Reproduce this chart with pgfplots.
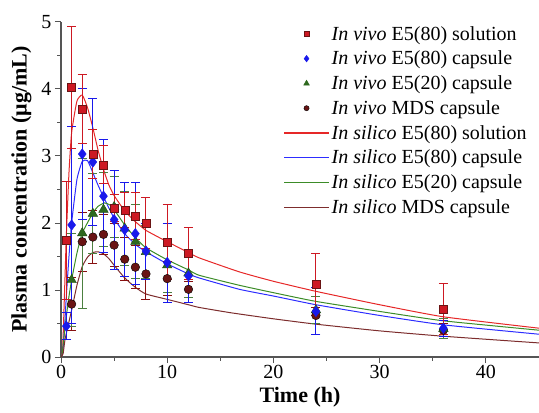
\documentclass[border=0pt]{standalone}
\usepackage{fontspec}
\setmainfont{Liberation Serif}
\usepackage{pgfplots}
\pgfplotsset{compat=1.18}
\usepackage{pgfplotstable}
\usetikzlibrary{calc}

\definecolor{cred}{RGB}{205,25,35}
\definecolor{cblue}{RGB}{25,25,235}
\definecolor{cgreen}{RGB}{45,105,30}
\definecolor{cbrown}{RGB}{105,20,20}
\definecolor{lred}{RGB}{230,40,40}
\definecolor{lblue}{RGB}{45,45,255}
\definecolor{lgreen}{RGB}{60,140,40}
\definecolor{lbrown}{RGB}{125,45,45}
\definecolor{axgray}{RGB}{85,85,85}

\pgfplotsset{
    lineleg/.style={legend image code/.code={\draw[##1, line width=1.2pt] (0pt,0pt) -- (45pt,0pt);}},
    markleg/.style={legend image code/.code={\draw[mark repeat=2,mark phase=2,##1] plot coordinates {(0pt,0pt)(22.5pt,0pt)(45pt,0pt)};}},
}

% in vivo data: time, mean, SD
\pgfplotstableread{
t y e
0.5 1.74 0.88
1 4.02 0.91
2 3.70 0.52
3 3.03 0.37
4 2.87 0.28
5 2.22 0.20
6 2.19 0.26
7 2.10 0.35
8 2.00 0.38
10 1.71 0.56
12 1.55 0.39
24 1.08 0.46
36 0.71 0.38
}\solvivo
\pgfplotstableread{
t y e
0.5 0.46 0.20
1 1.97 1.47
2 3.03 0.98
3 2.91 0.95
4 2.40 0.84
5 2.05 0.74
6 1.90 0.70
7 1.84 0.76
8 1.58 0.42
10 1.41 0.59
12 1.21 0.40
24 0.68 0.35
36 0.43 0.12
}\capvivo
\pgfplotstableread{
t y e
1 1.15 0.70
2 1.85 1.12
3 2.14 0.60
4 2.20 0.55
5 2.24 0.45
6 1.92 0.55
7 1.72 0.55
8 1.57 0.40
10 1.37 0.40
12 1.25 0.36
24 0.70 0.20
36 0.42 0.15
}\captwvivo
\pgfplotstableread{
t y e
1 0.79 0.40
2 1.72 0.44
3 1.79 0.40
4 1.83 0.30
5 1.67 0.32
6 1.46 0.32
7 1.34 0.32
8 1.24 0.38
10 1.17 0.25
12 1.01 0.12
24 0.62 0.12
36 0.40 0.10
}\mdsvivo

% in silico curves
\pgfplotstableread{
t y
0 0
0.15 0.1
0.3 0.8
0.5 1.8
0.75 2.75
1 3.35
1.5 3.82
2 3.91
2.5 3.72
3 3.42
3.5 3.08
4 2.80
4.5 2.57
5 2.41
6 2.18
7 2.02
8 1.89
9.4 1.77
10 1.72
12 1.56
13 1.48
16.8 1.27
20 1.13
24 0.98
30 0.78
36 0.60
45 0.43
}\solsim
\pgfplotstableread{
t y
0 0
0.15 0.05
0.3 0.35
0.5 0.9
0.75 1.5
1 2.0
1.5 2.65
2 2.92
2.5 2.93
3 2.75
3.5 2.56
4 2.39
5 2.07
6 1.84
7 1.68
8 1.57
10 1.39
12 1.24
13 1.18
16.8 1.01
20 0.91
24 0.78
30 0.62
36 0.48
45 0.34
}\capsim
\pgfplotstableread{
t y
0 0
0.1 0.03
0.38 0.45
0.7 0.85
1 1.15
1.5 1.55
2 1.85
3 2.15
3.5 2.25
4.1 2.30
4.6 2.27
5 2.20
6 1.97
7 1.78
8 1.63
10 1.45
12 1.30
13 1.22
16.8 1.07
20 0.96
24 0.83
30 0.68
36 0.54
45 0.40
}\captwsim
\pgfplotstableread{
t y
0 0
0.2 0.05
0.4 0.28
1 0.70
1.5 1.07
2 1.35
2.5 1.49
3 1.56
3.5 1.57
4 1.54
4.5 1.47
5 1.37
6 1.18
7 1.04
8 0.94
10 0.86
12 0.78
13 0.74
16 0.66
20 0.57
24 0.49
30 0.39
36 0.31
45 0.21
}\mdssim

\begin{document}
\begin{tikzpicture}
\begin{axis}[
    scale only axis,
    width=478pt, height=335pt,
    xmin=0, xmax=45, ymin=0, ymax=5,
    axis x line*=bottom, axis y line*=left,
    axis line style={-, axgray, line width=1.2pt},
    xtick={0,10,20,30,40}, ytick={0,1,2,3,4,5},
    minor x tick num=1, minor y tick num=1,
    tick align=outside,
    major tick length=6pt, minor tick length=3.5pt,
    tick style={axgray, line width=1pt},
    /pgf/number format/assume math mode=true,
    ticklabel style={font=\fontsize{20}{22}\selectfont},
    xticklabel style={yshift=1pt},
    xlabel={\textbf{Time (h)}},
    ylabel={\textbf{Plasma concentration (μg/mL)}},
    label style={font=\fontsize{22}{24}\selectfont},
    xlabel style={yshift=-1pt},
    ylabel style={yshift=3pt},
    lineleg,
    legend style={draw=none, fill=none, at={(rel axis cs:0.985,1.0)}, anchor=north east,
        font=\fontsize{20}{21}\selectfont, row sep=5.4pt,
        /tikz/every even column/.append style={column sep=2pt}},
    legend cell align=left,
]
\coordinate (sw) at (rel axis cs:0,0);
\coordinate (ne) at (rel axis cs:1,1);

\addlegendimage{markleg, only marks, mark=square*, mark size=2.6pt, draw=cbrown, fill=cred}
\addlegendentry{\textit{In vivo} E5(80) solution}
\addlegendimage{markleg, only marks, mark=diamond*, mark size=3.3pt, draw=cblue, fill=cblue}
\addlegendentry{\textit{In vivo} E5(80) capsule}
\addlegendimage{markleg, only marks, mark=triangle*, mark size=3.3pt, draw=cgreen, fill=cgreen}
\addlegendentry{\textit{In vivo} E5(20) capsule}
\addlegendimage{markleg, only marks, mark=*, mark size=2.6pt, draw=black, fill=cbrown}
\addlegendentry{\textit{In vivo} MDS capsule}

\addplot[lred, line width=1pt, smooth, tension=0.3] table[x=t, y=y] {\solsim};
\addlegendentry{\textit{In silico} E5(80) solution}
\addplot[lblue, line width=1pt, smooth, tension=0.3] table[x=t, y=y] {\capsim};
\addlegendentry{\textit{In silico} E5(80) capsule}
\addplot[lgreen, line width=1pt, smooth, tension=0.3] table[x=t, y=y] {\captwsim};
\addlegendentry{\textit{In silico} E5(20) capsule}
\addplot[lbrown, line width=1pt, smooth, tension=0.3] table[x=t, y=y] {\mdssim};
\addlegendentry{\textit{In silico} MDS capsule}

\addplot[forget plot, only marks, mark=*, mark size=4.3pt, draw=black, fill=cbrown,
    error bars/.cd, y dir=both, y explicit,
    error bar style={color=cbrown!80!red, line width=1pt},
    error mark options={rotate=90, mark size=4.5pt, line width=1pt, color=cbrown!80!red}]
    table[x=t, y=y, y error=e] {\mdsvivo};
\addplot[forget plot, only marks, mark=triangle*, mark size=5.5pt, draw=cgreen!70!black, fill=cgreen,
    error bars/.cd, y dir=both, y explicit,
    error bar style={color=cgreen!85!white, line width=1pt},
    error mark options={rotate=90, mark size=4.5pt, line width=1pt, color=cgreen!85!white}]
    table[x=t, y=y, y error=e] {\captwvivo};
\addplot[forget plot, only marks, mark=diamond*, mark size=5.3pt, draw=cblue, fill=cblue,
    error bars/.cd, y dir=both, y explicit,
    error bar style={color=cblue, line width=1pt},
    error mark options={rotate=90, mark size=4.5pt, line width=1pt, color=cblue}]
    table[x=t, y=y, y error=e] {\capvivo};
\addplot[forget plot, only marks, mark=square*, mark size=4pt, draw=cbrown, fill=cred,
    error bars/.cd, y dir=both, y explicit,
    error bar style={color=cred, line width=1pt},
    error mark options={rotate=90, mark size=4.5pt, line width=1pt, color=cred}]
    table[x=t, y=y, y error=e] {\solvivo};
\end{axis}
\pgfresetboundingbox
\path ($(sw)+(-61pt,-55pt)$) rectangle ($(ne)+(0pt,22pt)$);
\end{tikzpicture}
\end{document}
